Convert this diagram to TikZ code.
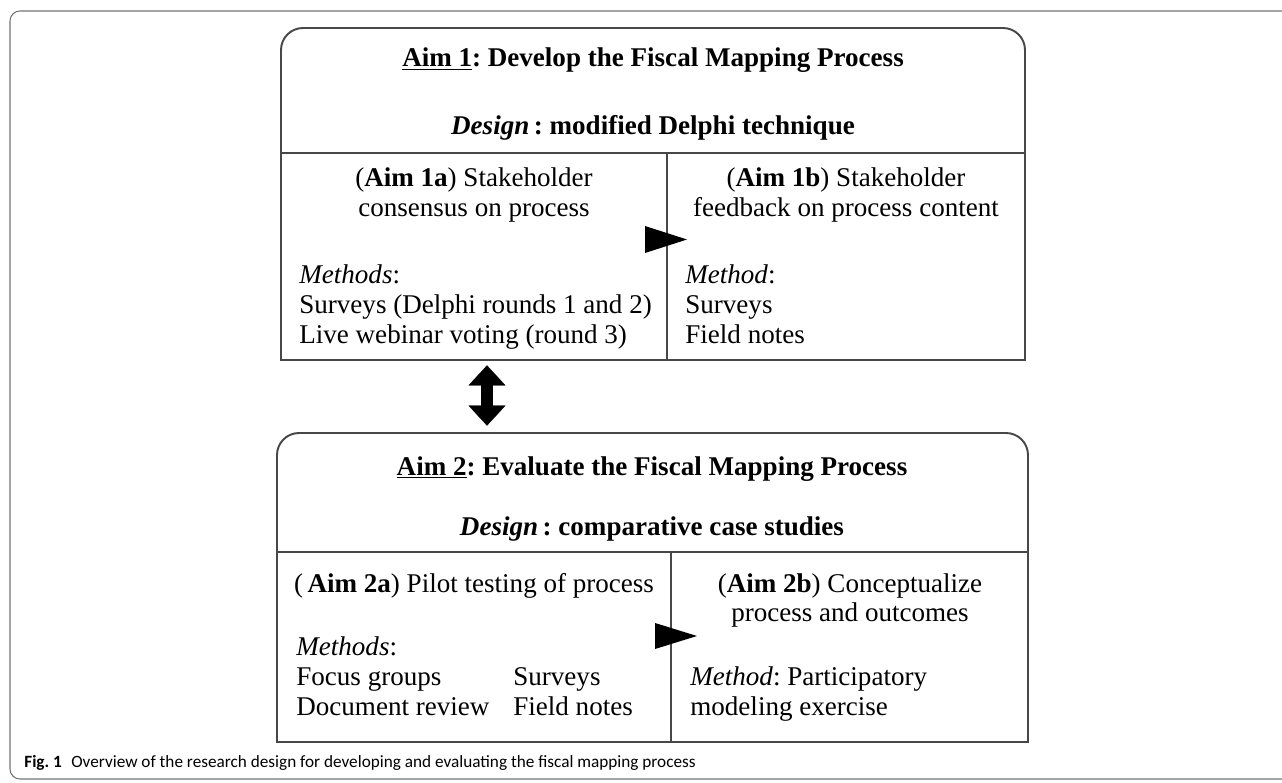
\documentclass[tikz,border=0pt]{standalone}
\usepackage{fontspec}
\setmainfont{Liberation Serif}
\newfontfamily\capfont{Carlito}
\usetikzlibrary{arrows.meta,calc,fit}
\frenchspacing

\begin{document}
\begin{tikzpicture}[
    x=0.02cm, y=0.02cm,
    font=\fontsize{15.4}{17}\selectfont,
    frame/.style={draw=black!72, line width=1.1pt},
    capframe/.style={draw=black!55, line width=0.6pt, rounded corners=0.2cm},
    txt/.style={inner sep=0pt, anchor=base},
    txtl/.style={inner sep=0pt, anchor=base west},
    dbl/.style={{Triangle[width=21pt,length=11.4pt,line width=0.1pt]}-{Triangle[width=21pt,length=11.4pt,line width=0.1pt]}, line width=6.8pt, draw=black}
]
    \useasboundingbox (0,0) rectangle (1282,782);
    \clip (0,0) rectangle (1282,782);

    % figure frame
    \draw[capframe] (10,3) rectangle (1310,771);

    % Aim 1 box
    \draw[frame] (281,422) -- (281,732) arc[start angle=180, end angle=90, radius=0.44cm]
        -- (1003,754) arc[start angle=90, end angle=0, radius=0.44cm] -- (1025,422) -- cycle;
    \draw[frame] (281,629) -- (1025,629);
    \draw[frame] (667,629) -- (667,422);
    \node[fit={(281,422)(1025,754)}, inner sep=0pt] (aim1) {};

    % Aim 2 box
    \draw[frame] (277,40) -- (277,327) arc[start angle=180, end angle=90, radius=0.44cm]
        -- (1006,349) arc[start angle=90, end angle=0, radius=0.44cm] -- (1028,40) -- cycle;
    \draw[frame] (277,230) -- (1028,230);
    \draw[frame] (671,230) -- (671,40);
    \node[fit={(277,40)(1028,349)}, inner sep=0pt] (aim2) {};

    % Aim 1 texts
    \node[txt] (t1) at (653,715) {\textbf{\underline{Aim 1}: Develop the Fiscal Mapping Process}};
    \node[txt] (d1) at (653,647) {\textbf{\textit{Design}\,: modified Delphi technique}};
    \node[txt] (a1a) at (474,595) {(\textbf{Aim 1a}) Stakeholder};
    \node[txt] (a1a2) at (474,565) {consensus on process};
    \node[txtl] (m1a) at (299,498) {\textit{Methods}:};
    \node[txtl] (m1a1) at (299,468) {Surveys (Delphi rounds 1 and 2)};
    \node[txtl] (m1a2) at (299,438) {Live webinar voting (round 3)};
    \node[txt] (a1b) at (846,595) {(\textbf{Aim 1b}) Stakeholder};
    \node[txt] (a1b2) at (846,565) {feedback on process content};
    \node[txtl] (m1b) at (685,498) {\textit{Method}:};
    \node[txtl] (m1b1) at (685,468) {Surveys};
    \node[txtl] (m1b2) at (685,438) {Field notes};

    % Aim 2 texts
    \node[txt] (t2) at (652,307) {\textbf{\underline{Aim 2}: Evaluate the Fiscal Mapping Process}};
    \node[txt] (d2) at (652,247) {\textbf{\textit{Design}\,: comparative case studies}};
    \node[txt] (a2a) at (474,190) {(\,\textbf{Aim 2a}) Pilot testing of process};
    \node[txtl] (m2a) at (296,127) {\textit{Methods}:};
    \node[txtl] (m2a1) at (296,97) {Focus groups};
    \node[txtl] (m2a2) at (296,67) {Document review};
    \node[txtl] (m2a3) at (513,97) {Surveys};
    \node[txtl] (m2a4) at (513,67) {Field notes};
    \node[txt] (a2b) at (850,190) {(\textbf{Aim 2b}) Conceptualize};
    \node[txt] (a2b2) at (850,161) {process and outcomes};
    \node[txtl] (m2b) at (690,97) {\textit{Method}: Participatory};
    \node[txtl] (m2b1) at (690,67) {modeling exercise};

    % flow heads on the dividers
    \fill (645,556) -- (687,542.5) -- (645,529) -- cycle;
    \fill (655,159) -- (697,146) -- (655,133) -- cycle;

    % link between the aims
    \coordinate (dblx) at (487,0);
    \draw[dbl, shorten <=0.1cm, shorten >=0.14cm] (aim1.south -| dblx) -- (aim2.north -| dblx);

    % caption
    \node[txtl, font=\capfont\fontsize{9.8}{12}\selectfont] (cap) at (24,15)
        {\textbf{Fig. 1}\hspace{0.55em}Overview of the research design for developing and evaluating the fiscal mapping process};
\end{tikzpicture}
\end{document}
